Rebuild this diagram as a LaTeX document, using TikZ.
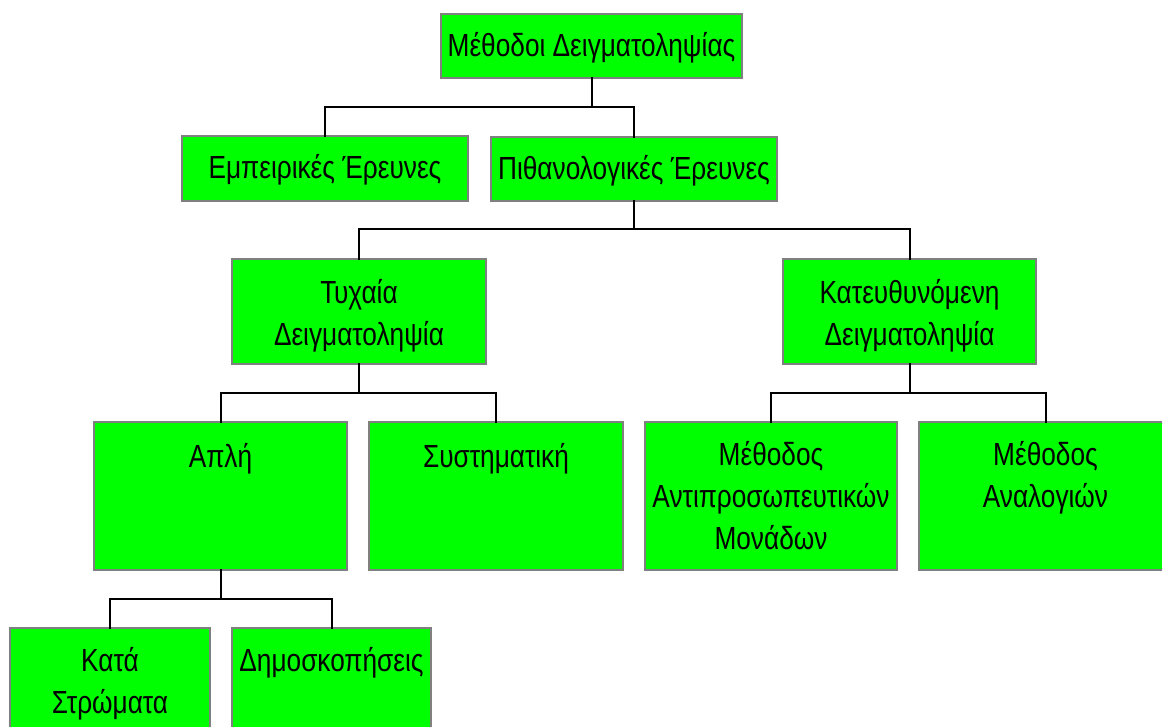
\documentclass[tikz,border=0pt]{standalone}
\usepackage{fontspec}
\setmainfont{Liberation Sans}[FakeStretch=0.82]
\newcommand\mylines[1]{\begin{tabular}[t]{@{}c@{}}#1\end{tabular}}
\begin{document}
\begin{tikzpicture}[x=1pt,y=-1pt,
  box/.style={draw=black!50, line width=2pt, fill=green, inner sep=0pt, outer sep=0pt, rectangle},
  lbl/.style={font=\fontsize{32}{42}\selectfont, inner sep=0pt, anchor=base, text=black},
  conn/.style={draw=black, line width=2pt, line cap=rect}]
\useasboundingbox (0,0) rectangle (1162,727);
\clip (0,0) rectangle (1162,727);
% boxes
\node[box, minimum width=301pt, minimum height=64pt] (top) at (591.5,46) {};
\node[box, minimum width=286pt, minimum height=65pt] (emp) at (325,168.5) {};
\node[box, minimum width=286pt, minimum height=64pt] (pit) at (634,169) {};
\node[box, minimum width=254pt, minimum height=105pt] (tyx) at (359,311.5) {};
\node[box, minimum width=253pt, minimum height=105pt] (kat) at (909.5,311.5) {};
\node[box, minimum width=253pt, minimum height=148pt] (apl) at (220.5,496) {};
\node[box, minimum width=254pt, minimum height=148pt] (sys) at (496,496) {};
\node[box, minimum width=252pt, minimum height=148pt] (ant) at (771,496) {};
\node[box, minimum width=253pt, minimum height=148pt] (ana) at (1045.5,496) {};
\node[box, minimum width=200pt, minimum height=148pt] (str) at (110,702) {};
\node[box, minimum width=199pt, minimum height=148pt] (dim) at (331.5,702) {};
% labels
\node[lbl] (ttop) at ([yshift=-43pt]top.north) {Μέθοδοι Δειγματοληψίας};
\node[lbl] (temp) at ([yshift=-43pt]emp.north) {Εμπειρικές Έρευνες};
\node[lbl] (tpit) at ([yshift=-43pt]pit.north) {Πιθανολογικές Έρευνες};
\node[lbl] (ttyx) at ([yshift=-45pt]tyx.north) {\mylines{Τυχαία\\Δειγματοληψία}};
\node[lbl] (tkat) at ([yshift=-45pt]kat.north) {\mylines{Κατευθυνόμενη\\Δειγματοληψία}};
\node[lbl] (tapl) at ([yshift=-45pt]apl.north) {Απλή};
\node[lbl] (tsys) at ([yshift=-45pt]sys.north) {Συστηματική};
\node[lbl] (tant) at ([yshift=-43pt]ant.north) {\mylines{Μέθοδος\\Αντιπροσωπευτικών\\Μονάδων}};
\node[lbl] (tana) at ([yshift=-43pt]ana.north) {\mylines{Μέθοδος\\Αναλογιών}};
\node[lbl] (tstr) at ([yshift=-43pt]str.north) {\mylines{Κατά\\Στρώματα}};
\node[lbl] (tdim) at ([yshift=-43pt]dim.north) {Δημοσκοπήσεις};
% connectors
\draw[conn] (top.south) -- (top.south |- 0,107) -| (emp.north);
\draw[conn] (top.south) -- (top.south |- 0,107) -| (pit.north);
\draw[conn] (pit.south) -- (pit.south |- 0,229) -| (tyx.north);
\draw[conn] (pit.south) -- (pit.south |- 0,229) -| (kat.north);
\draw[conn] (tyx.south) -- (tyx.south |- 0,393) -| (apl.north);
\draw[conn] (tyx.south) -- (tyx.south |- 0,393) -| (sys.north);
\draw[conn] (kat.south) -- (kat.south |- 0,393) -| (ant.north);
\draw[conn] (kat.south) -- (kat.south |- 0,393) -| (ana.north);
\draw[conn] (apl.south) -- (apl.south |- 0,599) -| (str.north);
\draw[conn] (apl.south) -- (apl.south |- 0,599) -| (dim.north);
\end{tikzpicture}
\end{document}
